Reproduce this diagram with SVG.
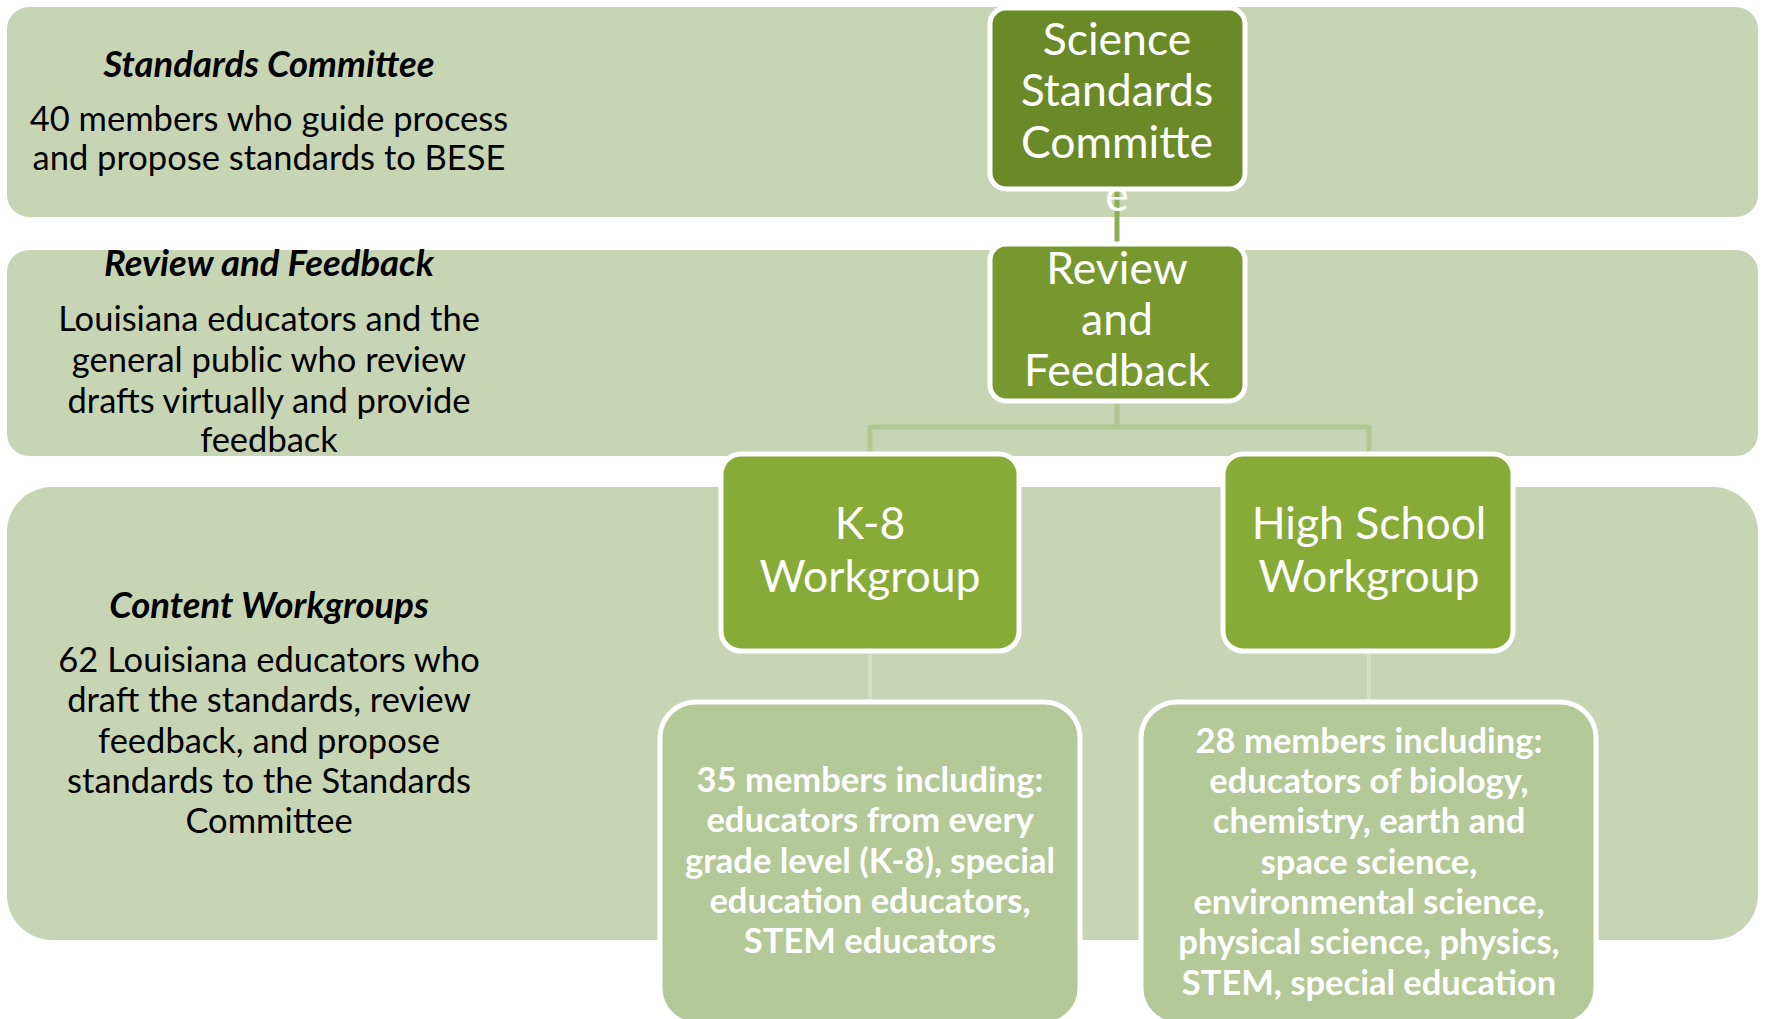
<svg xmlns="http://www.w3.org/2000/svg" width="1765" height="1019" viewBox="0 0 1765 1019">
<style>
.band{fill:#c8d5b5}
.node{stroke:#ffffff;stroke-width:5}
.n1{fill:#6a8a27}
.n2{fill:#77982e}
.n3{fill:#86ab37}
.n4{fill:#b4c898}
.lab{font-family:Lato,"Liberation Sans",sans-serif;fill:#000;text-anchor:middle}
.head{font-weight:bold;font-style:italic;font-size:36.5px}
.body{font-size:34.5px}
.big{font-family:Lato,"Liberation Sans",sans-serif;fill:#fff;text-anchor:middle;font-size:44.5px}
.det{font-family:Lato,"Liberation Sans",sans-serif;fill:#fff;text-anchor:middle;font-size:34.5px;font-weight:bold}
.c1{stroke:#8eae52;stroke-width:5;fill:none}
.c2{stroke:#b2c791;stroke-width:5;fill:none}
.c3{stroke:#d3dec6;stroke-width:4;fill:none}
</style>
<rect width="1765" height="1019" fill="#ffffff"/>
<g id="band-standards">
<rect class="band" x="7" y="7" width="1751" height="210" rx="22"/>
<text class="lab head" x="269" y="77">Standards Committee</text>
<text class="lab body" x="269" y="131">40 members who guide process</text>
<text class="lab body" x="269" y="170">and propose standards to BESE</text>
</g>
<g id="band-review">
<rect class="band" x="7" y="250" width="1751" height="206" rx="22"/>
<text class="lab head" x="269" y="276">Review and Feedback</text>
<text class="lab body" x="269" y="331">Louisiana educators and the</text>
<text class="lab body" x="269" y="372">general public who review</text>
<text class="lab body" x="269" y="413">drafts virtually and provide</text>
<text class="lab body" x="269" y="452">feedback</text>
</g>
<g id="band-content">
<rect class="band" x="7" y="487" width="1751" height="453" rx="45"/>
<text class="lab head" x="269" y="618">Content Workgroups</text>
<text class="lab body" x="269" y="672">62 Louisiana educators who</text>
<text class="lab body" x="269" y="712">draft the standards, review</text>
<text class="lab body" x="269" y="753">feedback, and propose</text>
<text class="lab body" x="269" y="793">standards to the Standards</text>
<text class="lab body" x="269" y="833">Committee</text>
</g>
<g id="connectors">
<line class="c1" x1="1117" y1="189" x2="1117" y2="243"/>
<path class="c2" d="M1117 401 V427 M870 427 H1369 M870 425 V452 M1369 425 V452"/>
<line class="c3" x1="870" y1="651" x2="870" y2="702"/>
<line class="c3" x1="1369" y1="651" x2="1369" y2="702"/>
</g>
<g id="node-science">
<rect class="node n1" x="990" y="8" width="255" height="181" rx="16"/>
<text class="big" x="1117" y="55">Science</text>
<text class="big" x="1117" y="106">Standards</text>
<text class="big" x="1117" y="158">Committe</text>
<text class="big" x="1117" y="211" fill="#eef2e6">e</text>
</g>
<g id="node-review">
<rect class="node n2" x="990" y="244" width="255" height="157" rx="16"/>
<text class="big" x="1117" y="284">Review</text>
<text class="big" x="1117" y="335">and</text>
<text class="big" x="1117" y="386">Feedback</text>
</g>
<g id="node-k8">
<rect class="node n3" x="721" y="454" width="298" height="197" rx="20"/>
<text class="big" x="870" y="539">K-8</text>
<text class="big" x="870" y="592">Workgroup</text>
</g>
<g id="node-hs">
<rect class="node n3" x="1223" y="454" width="290" height="197" rx="20"/>
<text class="big" x="1369" y="539">High School</text>
<text class="big" x="1369" y="592">Workgroup</text>
</g>
<g id="node-k8-members">
<rect class="node n4" x="660" y="702" width="420" height="322" rx="36"/>
<text class="det" x="870" y="792">35 members including:</text>
<text class="det" x="870" y="832">educators from every</text>
<text class="det" x="870" y="873">grade level (K-8), special</text>
<text class="det" x="870" y="913">education educators,</text>
<text class="det" x="870" y="953">STEM educators</text>
</g>
<g id="node-hs-members">
<rect class="node n4" x="1141" y="702" width="455" height="322" rx="36"/>
<text class="det" x="1369" y="753">28 members including:</text>
<text class="det" x="1369" y="793">educators of biology,</text>
<text class="det" x="1369" y="833">chemistry, earth and</text>
<text class="det" x="1369" y="874">space science,</text>
<text class="det" x="1369" y="914">environmental science,</text>
<text class="det" x="1369" y="954">physical science, physics,</text>
<text class="det" x="1369" y="995">STEM, special education</text>
</g>
</svg>
